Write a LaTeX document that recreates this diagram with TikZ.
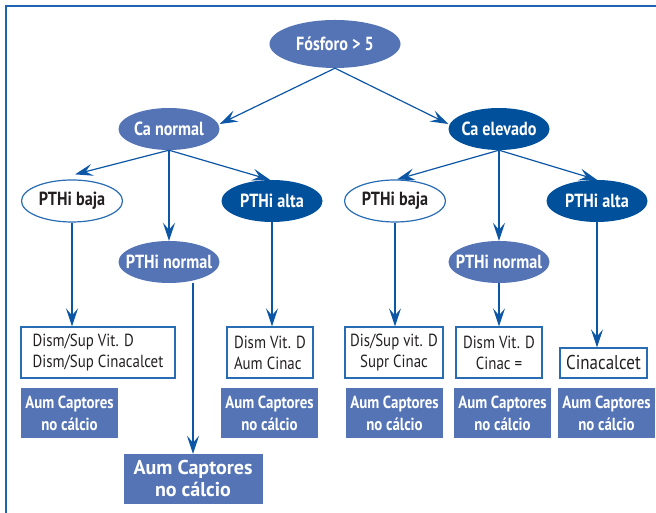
\documentclass[tikz,border=0pt]{standalone}
\usepackage{fontspec}
\setmainfont{PT Sans}[FakeStretch=0.85]
\newfontfamily\anchafont{PT Sans}
\usetikzlibrary{shapes.geometric,arrows.meta}
\definecolor{azulmedio}{RGB}{84,116,182}
\definecolor{azuloscuro}{RGB}{0,80,155}
\definecolor{azulflecha}{RGB}{12,86,166}
\definecolor{azulborde}{RGB}{40,108,180}
\definecolor{azulmarco}{RGB}{30,100,178}
\definecolor{texto}{RGB}{35,31,32}

\begin{document}
\begin{tikzpicture}[x=1pt,y=1pt,
  elipse/.style={ellipse,minimum width=101pt,minimum height=42pt,inner xsep=-14pt,inner ysep=-6pt,font=\bfseries\fontsize{19}{22}\selectfont},
  medio/.style={elipse,fill=azulmedio,text=white},
  oscuro/.style={elipse,fill=azuloscuro,text=white},
  claro/.style={elipse,draw=azulborde,line width=1.2pt,fill=white,text=texto},
  caja/.style={draw=azulborde,line width=1.2pt,text=texto,inner sep=0pt,font=\fontsize{17.5}{21}\selectfont},
  relleno/.style={fill=azulmedio,text=white,align=center,inner sep=0pt,minimum width=97pt,minimum height=50pt,font=\bfseries\fontsize{17.5}{22}\selectfont},
  flecha/.style={draw=azulflecha,line width=1.2pt,-{Stealth[length=18pt,width=12pt,inset=7pt]}}]
\useasboundingbox (0,0) rectangle (656,513);
\draw[azulmarco,line width=2pt] (6,0)--(6,507)--(656,507);

\node[medio,minimum width=131pt,minimum height=48pt] (fosforo) at (335,469) {Fósforo > 5};
\node[medio] (canormal) at (169,384) {Ca normal};
\node[oscuro] (caelevado) at (499,384) {Ca elevado};

\node[claro] (bajaA) at (72,312) {PTHi baja};
\node[medio] (normalA) at (169,251) {PTHi normal};
\node[oscuro] (altaA) at (272,312) {PTHi alta};
\node[claro] (bajaB) at (395,312) {PTHi baja};
\node[medio] (normalB) at (499,251) {PTHi normal};
\node[oscuro] (altaB) at (597,312) {PTHi alta};

\node[caja,align=left,minimum width=154pt,minimum height=51pt] (dismA) at (98,160.5) {Dism/Sup Vit. D\\Dism/Sup Cinacalcet};
\node[caja,align=left,minimum width=86pt,minimum height=51pt] (dismC) at (270,160.5) {Dism Vit. D\\Aum Cinac};
\node[caja,align=center,minimum width=98pt,minimum height=51pt] (disB) at (394,160.5) {Dis/Sup vit. D\\Supr Cinac};
\node[caja,align=center,minimum width=86pt,minimum height=51pt] (dismB) at (499,160.5) {Dism Vit. D\\Cinac =};
\node[caja,align=center,minimum width=87pt,minimum height=30pt,font=\fontsize{20}{22}\selectfont] (cinacB) at (603.5,150) {Cinacalcet};

\node[relleno] (captA) at (69.5,100) {Aum Captores\\no cálcio};
\node[relleno] (captC) at (269.5,100) {Aum Captores\\no cálcio};
\node[relleno] (captD) at (394.5,100) {Aum Captores\\no cálcio};
\node[relleno] (captE) at (502.5,100) {Aum Captores\\no cálcio};
\node[relleno] (captF) at (606.5,100) {Aum Captores\\no cálcio};
\node[relleno,minimum width=139pt,font=\anchafont\bfseries\fontsize{20}{22}\selectfont] (captN) at (193,34) {Aum Captores\\no cálcio};

\draw[flecha] (fosforo.south) -- ([yshift=5pt]canormal.east);
\draw[flecha] (fosforo.south) -- ([yshift=5pt]caelevado.west);
\draw[flecha] (canormal.south) -- ([xshift=3pt,yshift=5pt]bajaA.north);
\draw[flecha] (canormal.south) -- (normalA.north);
\draw[flecha] (canormal.south) -- ([xshift=-2pt]altaA.north);
\draw[flecha] (caelevado.south) -- ([xshift=2pt]bajaB.north);
\draw[flecha] (caelevado.south) -- (normalB.north);
\draw[flecha] (caelevado.south) -- (altaB.north);

\draw[flecha] (bajaA.south) -- (bajaA.south |- dismA.north);
\draw[flecha] (captN.north |- normalA.south) -- (captN.north);
\draw[flecha] (altaA.south) -- (altaA.south |- dismC.north);
\draw[flecha] (bajaB.south) -- (bajaB.south |- disB.north);
\draw[flecha] (normalB.south) -- (normalB.south |- dismB.north);
\draw[flecha] (altaB.south) -- (altaB.south |- cinacB.north);
\end{tikzpicture}
\end{document}
